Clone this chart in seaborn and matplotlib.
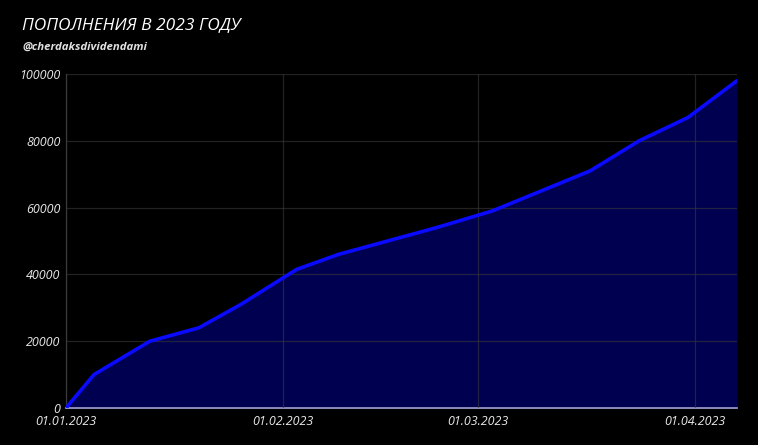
import matplotlib
matplotlib.use("Agg")
import matplotlib.pyplot as plt
import matplotlib.dates as mdates
import matplotlib.transforms as mtransforms
import seaborn as sns
import pandas as pd

dates = ["2023-01-01", "2023-01-05", "2023-01-13", "2023-01-20", "2023-01-26",
         "2023-02-03", "2023-02-09", "2023-02-23", "2023-03-03", "2023-03-17",
         "2023-03-24", "2023-03-31", "2023-04-07"]
values = [0, 10000, 20000, 24000, 31000, 41500, 46000, 54000, 59000, 71000,
          80000, 87000, 98000]
y_ticks = [0, 20000, 40000, 60000, 80000, 100000]
x_ticks = ["2023-01-01", "2023-02-01", "2023-03-01", "2023-04-01"]
title = "ПОПОЛНЕНИЯ В 2023 ГОДУ"
subtitle = "@cherdaksdividendami"

df = pd.DataFrame({"date": pd.to_datetime(dates), "value": values})

sns.set_theme(style="dark")
plt.rcParams['font.family'] = ['Open Sans', 'DejaVu Sans']

fig = plt.figure(figsize=(7.58, 4.45), dpi=100, facecolor="black")
ax = fig.add_axes([66/758, 37/445, (737-66)/758, (408-74)/445])
ax.set_facecolor("black")

ax.fill_between(df["date"], df["value"], 0, color="#000050", zorder=1, linewidth=0)
sns.lineplot(data=df, x="date", y="value", ax=ax, color="#0a0aff", linewidth=2.6, zorder=3)

ax.set_xlim(pd.Timestamp("2023-01-01"), pd.Timestamp("2023-04-07"))
ax.set_ylim(0, 100000)
ax.set_yticks(y_ticks)
ax.set_xticks(pd.to_datetime(x_ticks))
ax.xaxis.set_major_formatter(mdates.DateFormatter("%d.%m.%Y"))

ax.grid(True, color="#3a3a3a", linewidth=0.9, zorder=2)
ax.set_axisbelow(False)
for line in ax.get_xgridlines() + ax.get_ygridlines():
    line.set_alpha(0.6)
    line.set_zorder(2)

for s in ["top", "right"]:
    ax.spines[s].set_visible(False)
ax.spines["left"].set_visible(True)
ax.spines["left"].set_color("#3a3a3a")
ax.spines["left"].set_linewidth(0.9)
ax.spines["bottom"].set_visible(True)
ax.spines["bottom"].set_color("#a8a8d8")
ax.spines["bottom"].set_linewidth(1.2)

ax.tick_params(axis="both", length=0, colors="white", labelsize=9)
ax.tick_params(axis="y", pad=4)
ax.tick_params(axis="x", pad=5)
for lbl in ax.get_xticklabels() + ax.get_yticklabels():
    lbl.set_fontstyle("italic")
    lbl.set_color("#e8e8e8")

# nudge the "0" label up slightly so it does not collide with the first date
zero_lbl = ax.yaxis.get_majorticklabels()[0]
zero_lbl.set_verticalalignment("center_baseline")

ax.set_xlabel("")
ax.set_ylabel("")

fig.text(22/758, 1 - 25/445, title, color="white", fontsize=12.5,
         fontstyle="italic", va="center", ha="left")
fig.text(22/758, 1 - 47/445, subtitle, color="#e0e0e0", fontsize=8.2,
         fontstyle="italic", fontweight="bold", va="center", ha="left")

fig.savefig("out.png", dpi=100, facecolor="black")
